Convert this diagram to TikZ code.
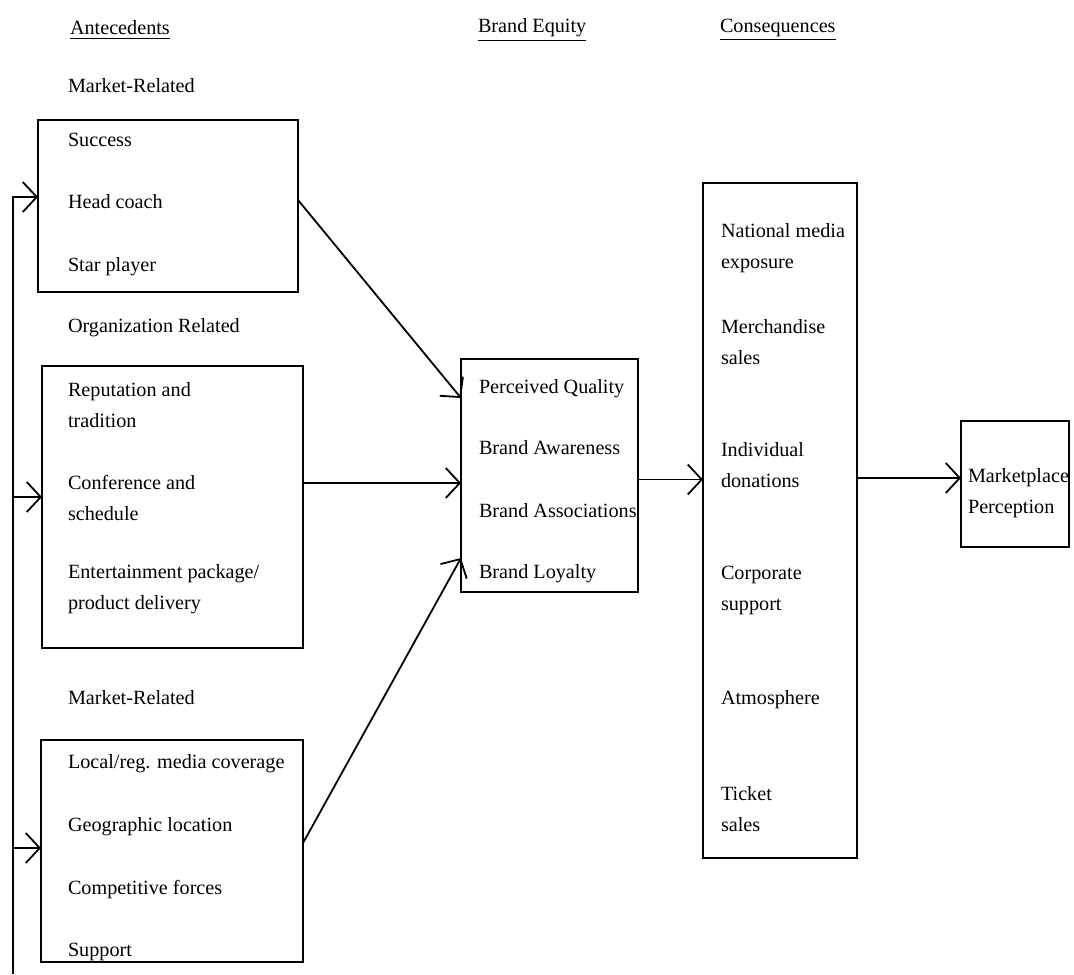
\documentclass[tikz,border=0pt]{standalone}
\usepackage{fontspec}
\setmainfont{Liberation Serif}
\usetikzlibrary{arrows.meta,calc}
\begin{document}
\begin{tikzpicture}[x=0.5pt,y=-0.5pt,
  every node/.style={font=\fontsize{10.1}{15.5}\selectfont, inner sep=0pt, outer sep=0pt},
  box/.style={draw, line width=1pt, rectangle},
  lbl/.style={anchor=west, align=left},
  arr/.style={line width=0.9pt, -{Straight Barb[length=7pt,width=15pt,line width=0.9pt]}},
  ln/.style={line width=0.9pt}]
\useasboundingbox (0,0) rectangle (1074,974);
% headers
\node[lbl] (hA) at (70,30) {\underline{Antecedents}};
\node[lbl] (hB) at (478,30) {\underline{Brand Equity}};
\node[lbl] (hC) at (720,30) {\underline{Consequences}};
% group labels
\node[lbl] (g1) at (68,86) {Market-Related};
\node[lbl] (g2) at (68,328) {Organization Related};
\node[lbl] (g3) at (68,698) {Market-Related};
% boxes
\node[box, minimum width=130pt, minimum height=86pt] (b1) at (168,206) {};
\node[box, minimum width=130.5pt, minimum height=141pt] (b2) at (172.5,507) {};
\node[box, minimum width=131pt, minimum height=111pt] (b3) at (172,851) {};
\node[box, minimum width=88.5pt, minimum height=116.5pt] (be) at (549.5,475.5) {};
\node[box, minimum width=77pt, minimum height=337.5pt] (cons) at (780,520.5) {};
\node[box, minimum width=54pt, minimum height=63pt] (mp) at (1015,484) {};
% box 1 texts
\node[lbl] (t11) at (68,140) {Success};
\node[lbl] (t12) at (68,202) {Head coach};
\node[lbl] (t13) at (68,267) {Star player};
% box 2 texts
\node[lbl] (t21) at (68,405) {Reputation and\\tradition};
\node[lbl] (t22) at (68,498) {Conference and\\schedule};
\node[lbl] (t23) at (68,589) {Entertainment package/\\product delivery};
% box 3 texts
\node[lbl] (t31) at (68,764) {Local/reg. media coverage};
\node[lbl] (t32) at (68,827) {Geographic location};
\node[lbl] (t33) at (68,890) {Competitive forces};
\node[lbl] (t34) at (68,952) {Support};
% brand equity texts
\node[lbl] (e1) at (479,389) {Perceived Quality};
\node[lbl] (e2) at (479,448) {Brand Awareness};
\node[lbl] (e3) at (479,511) {Brand Associations};
\node[lbl] (e4) at (479,574) {Brand Loyalty};
% consequences texts
\node[lbl] (c1) at (721,248) {National media\\exposure};
\node[lbl] (c2) at (721,342) {Merchandise\\sales};
\node[lbl] (c3) at (721,465) {Individual\\donations};
\node[lbl] (c4) at (721,590) {Corporate\\support};
\node[lbl] (c5) at (721,700) {Atmosphere};
\node[lbl] (c6) at (721,809) {Ticket\\sales};
% marketplace
\node[lbl] (m1) at (968,493) {Marketplace\\Perception};
% connectors
\draw[arr] ([yshift=3pt]b1.east) -- ([yshift=38.75pt]be.west);
\coordinate (k2) at ([yshift=12pt]b2.east);
\draw[arr] (k2) -- (k2 -| be.west);
\draw[arr] ([yshift=4pt]b3.east) -- ([yshift=-41.25pt]be.west);
\coordinate (k4) at ([yshift=-2pt]be.east);
\draw[arr] (k4) -- (k4 -| cons.west);
\coordinate (k5) at ([yshift=3pt]mp.west);
\draw[arr] (k5 -| cons.east) -- (k5);
% feedback loop
\coordinate (fb) at (13,974);
\coordinate (a1) at ([yshift=4.5pt]b1.west);
\coordinate (a2) at ([yshift=5pt]b2.west);
\coordinate (a3) at ([yshift=1.5pt]b3.west);
\draw[arr] (fb) |- (a1);
\draw[arr] (fb |- a2) -- (a2);
\draw[arr] (fb |- a3) -- (a3);
\end{tikzpicture}
\end{document}
